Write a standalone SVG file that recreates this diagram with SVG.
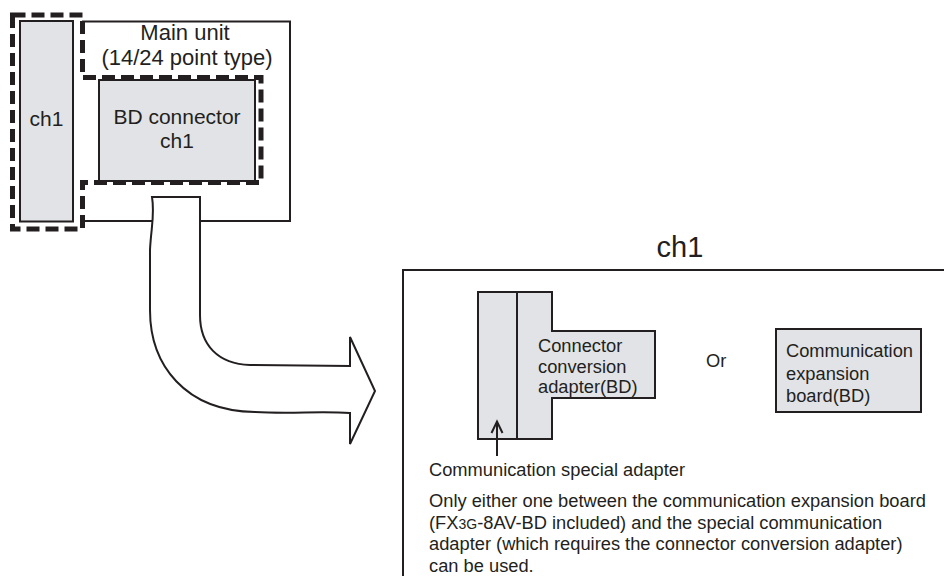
<svg xmlns="http://www.w3.org/2000/svg" width="944" height="576" viewBox="0 0 944 576">
<style>
  .t { font-family: "Liberation Sans", Arial, sans-serif; fill: #231f20; }
  .big { font-size: 22px; }
  .mid { font-size: 21px; }
  .med { font-size: 18.3px; }
  .box { fill: #e2e3e7; stroke: #231f20; stroke-width: 2; }
  .line { fill: none; stroke: #231f20; stroke-width: 2; }
  .dash { fill: none; stroke: #231f20; stroke-width: 5; stroke-dasharray: 13 6; }
</style>
<rect width="944" height="576" fill="#ffffff"/>

<g id="main-unit">
  <path class="line" d="M82,21.5 H290 V221 H82"/>
  <text class="t big" x="185" y="40" text-anchor="middle">Main unit</text>
  <text class="t big" x="187" y="65" text-anchor="middle">(14/24 point type)</text>
</g>

<g id="ch1-slot">
  <rect class="box" x="20" y="21" width="53" height="200.5"/>
  <text class="t mid" x="46.5" y="126" text-anchor="middle">ch1</text>
</g>

<g id="bd-connector">
  <rect class="box" x="99" y="80" width="156" height="101"/>
  <text class="t mid" x="177" y="124" text-anchor="middle">BD connector</text>
  <text class="t mid" x="177" y="148" text-anchor="middle">ch1</text>
</g>

<g id="ch1-outline">
  <path class="dash" d="M12.5,15 H82.5 V77.5 H261 V182.5 H82.5 V229 H12.5 Z"/>
</g>

<g id="ch1-panel">
  <path class="line" d="M403,576 V270 H944"/>
  <text class="t" font-size="29" x="680" y="257" text-anchor="middle">ch1</text>
</g>

<g id="communication-special-adapter">
  <rect class="box" x="478" y="292" width="39" height="147"/>
</g>

<g id="connector-conversion-adapter">
  <path class="box" d="M517,292 H552 V331 H655 V398 H552 V439 H517 Z"/>
  <text class="t med" x="538" y="352">Connector</text>
  <text class="t med" x="538" y="372.5">conversion</text>
  <text class="t med" x="538" y="393">adapter(BD)</text>
</g>

<g id="or-label">
  <text class="t med" x="706" y="367">Or</text>
</g>

<g id="communication-expansion-board">
  <rect class="box" x="776" y="329" width="145" height="83"/>
  <text class="t med" x="786" y="357">Communication</text>
  <text class="t med" x="786" y="379.5">expansion</text>
  <text class="t med" x="786" y="402">board(BD)</text>
</g>

<g id="notes">
  <text class="t med" x="429" y="476">Communication special adapter</text>
  <text class="t med" x="429" y="507">Only either one between the communication expansion board</text>
  <text class="t med" x="429" y="528.5">(FX<tspan font-size="14">3G</tspan>-8AV-BD included) and the special communication</text>
  <text class="t med" x="429" y="550">adapter (which requires the connector conversion adapter)</text>
  <text class="t med" x="429" y="571.5">can be used.</text>
</g>

<g id="connectors">
  <path fill="#ffffff" stroke="#231f20" stroke-width="2" stroke-linejoin="miter" d="M152,197 H200 V315 C200,345 218,364 250,365 L350,366 L350,337 L375,391 L350,444 L350,413 C320,411 290,414 255,412 C185,411 150,365 150,310 L150,250 C151,228 155,215 152,197 Z"/>
  <g id="adapter-pointer">
    <line class="line" x1="497" y1="456" x2="497" y2="422"/>
    <polyline class="line" points="491.5,433 497,421.5 502.5,433"/>
  </g>
</g>
</svg>
